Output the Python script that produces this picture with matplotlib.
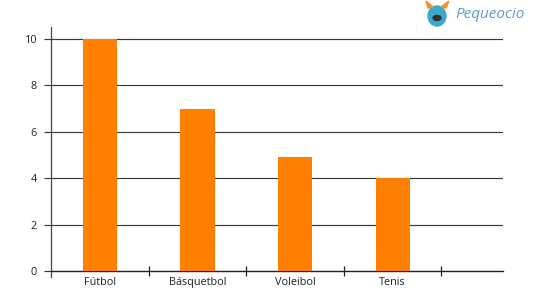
import matplotlib
matplotlib.use("Agg")
import matplotlib.pyplot as plt
from matplotlib.patches import Ellipse, Polygon

categories = ["Fútbol", "Básquetbol", "Voleibol", "Tenis"]
values = [10, 7, 4.9, 4]
y_ticks = [0, 2, 4, 6, 8, 10]

plt.rcParams['font.family'] = ['Open Sans', 'DejaVu Sans']

fig = plt.figure(figsize=(5.41, 3.05), dpi=100)
ax = fig.add_axes([51/541, 28/305, 452/541, 250/305])

x = list(range(len(categories)))
ax.bar(x, values, width=0.35, color="#FF8000", zorder=3)

for yv in y_ticks:
    ax.axhline(yv, color="#3a3a3a", lw=0.85, zorder=1)

ax.set_xlim(-0.5, 4.13)
ax.set_ylim(-0.26, 10.52)

for s in ["top", "right"]:
    ax.spines[s].set_visible(False)
ax.spines["left"].set_color("#444444")
ax.spines["left"].set_linewidth(0.9)
ax.spines["bottom"].set_position(("data", 0))
ax.spines["bottom"].set_color("#222222")
ax.spines["bottom"].set_linewidth(0.9)

ax.set_yticks(y_ticks)
ax.set_yticklabels([str(v) for v in y_ticks])
ax.tick_params(axis="y", length=5, width=0.85, color="#3a3a3a", pad=5,
               labelsize=7.8, labelcolor="#222222")

ax.set_xticks(x)
ax.set_xticklabels(categories)
ax.tick_params(axis="x", which="major", length=0, pad=4, labelsize=7.8,
               labelcolor="#222222")
ax.set_xticks([i + 0.5 for i in x], minor=True)
ax.tick_params(axis="x", which="minor", direction="inout", length=7,
               width=0.9, color="#222222")

# Logo
fig.text(455/541, 1 - 15/305, "Pequeocio", color="#5a9fcc", fontsize=11,
         fontstyle="italic", ha="left", va="center")
fig.patches.append(Ellipse((437/541, 1 - 16/305), 18/541, 20/305,
                           transform=fig.transFigure, color="#3fa7c9",
                           zorder=5))
fig.patches.append(Polygon([[428/541, 1 - 8/305], [426/541, 1 - 1/305],
                            [433/541, 1 - 7/305]],
                           transform=fig.transFigure, color="#f0902a",
                           zorder=5))
fig.patches.append(Polygon([[446/541, 1 - 8/305], [449/541, 1 - 1/305],
                            [441/541, 1 - 7/305]],
                           transform=fig.transFigure, color="#f0902a",
                           zorder=5))
fig.patches.append(Ellipse((437/541, 1 - 18/305), 8/541, 5/305,
                           transform=fig.transFigure, color="#333333",
                           zorder=6))

fig.savefig("out.png", dpi=100)
